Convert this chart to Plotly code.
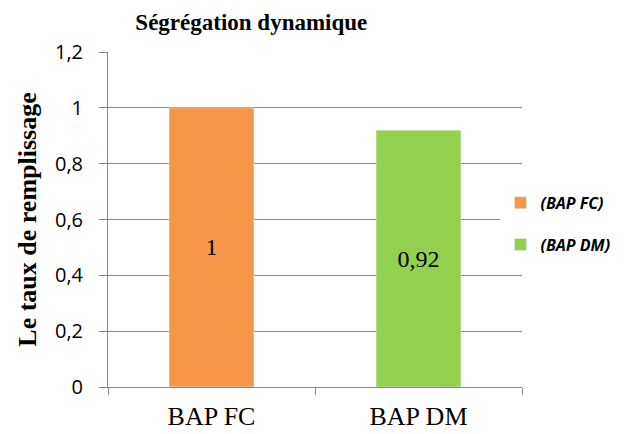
import plotly.graph_objects as go

categories = ["BAP FC", "BAP DM"]
values = [1, 0.92]
legend_names = ["(BAP FC)", "(BAP DM)"]
bar_labels = ["1", "0,92"]
colors = ["#F79646", "#92D050"]
y_ticks = [0, 0.2, 0.4, 0.6, 0.8, 1.0, 1.2]
y_tick_labels = ["0", "0,2", "0,4", "0,6", "0,8", "1", "1,2"]

fig = go.Figure()
for i, (cat, val, name, lab, col) in enumerate(zip(categories, values, legend_names, bar_labels, colors)):
    fig.add_trace(go.Bar(
        x=[cat], y=[val], name="<b><i>" + name + "</i></b>", marker_color=col, width=0.41,
        legendgroup="g%d" % i,
        text=[lab], textposition="inside", insidetextanchor="middle",
        textfont=dict(family="Liberation Serif", size=24, color="black"),
    ))

fig.update_layout(
    width=642, height=434,
    barmode="overlay",
    paper_bgcolor="white", plot_bgcolor="white",
    margin=dict(l=100, r=128, t=44, b=55, autoexpand=False),
    title=dict(text="<b>Ségrégation dynamique</b>", x=0.379, xanchor="center", y=0.968, yanchor="middle",
               pad=dict(t=0, b=0),
               font=dict(family="Liberation Serif", size=23, color="black")),
    legend=dict(x=0.948, xanchor="left", y=0.487, yanchor="middle", itemwidth=30,
                font=dict(family="Open Sans", size=16, color="black"),
                tracegroupgap=18),
    showlegend=True,
)
fig.update_xaxes(
    showline=True, linecolor="#888888", linewidth=1,
    ticks="outside", tickson="boundaries", ticklen=7, tickcolor="#888888",
    tickfont=dict(family="Liberation Serif", size=26, color="black"),
    ticklabelstandoff=6,
    showgrid=False, automargin=False,
)
fig.update_yaxes(
    range=[0, 1.2], tickvals=y_ticks, ticktext=y_tick_labels,
    showline=True, linecolor="#888888", linewidth=1,
    showgrid=True, gridcolor="#888888", gridwidth=1,
    ticks="outside", ticklen=8, tickcolor="#888888",
    tickfont=dict(family="Open Sans", size=20, color="black"),
    ticklabelstandoff=12,
    title=dict(text="<b>Le taux de remplissage</b>", standoff=10,
               font=dict(family="Liberation Serif", size=26, color="black")),
    zeroline=False, automargin=False,
)

fig.write_html("out.html")
